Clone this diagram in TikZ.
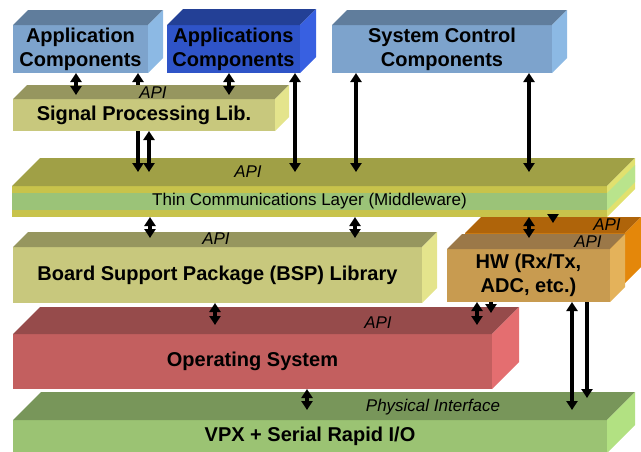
\documentclass[tikz,border=0pt]{standalone}
\usepackage{fontspec}
\setmainfont{Liberation Sans}
\usetikzlibrary{arrows.meta}

\definecolor{appfront}{RGB}{125,163,204}
\definecolor{apptop}{RGB}{96,125,156}
\definecolor{appside}{RGB}{140,185,228}
\definecolor{appsfront}{RGB}{47,84,200}
\definecolor{appstop}{RGB}{35,64,150}
\definecolor{appsside}{RGB}{56,96,225}
\definecolor{sigfront}{RGB}{200,200,125}
\definecolor{sigtop}{RGB}{150,150,95}
\definecolor{sigside}{RGB}{228,228,140}
\definecolor{mwtop}{RGB}{160,160,70}
\definecolor{mwyellow}{RGB}{200,195,75}
\definecolor{mwgreen}{RGB}{155,195,120}
\definecolor{mwsidey}{RGB}{225,225,110}
\definecolor{mwsideg}{RGB}{185,228,140}
\definecolor{hwfront}{RGB}{200,155,80}
\definecolor{hwtop}{RGB}{155,120,72}
\definecolor{hwside}{RGB}{228,178,90}
\definecolor{orgfront}{RGB}{205,125,20}
\definecolor{orgtop}{RGB}{175,100,10}
\definecolor{orgside}{RGB}{228,135,10}
\definecolor{osfront}{RGB}{195,95,95}
\definecolor{ostop}{RGB}{150,75,75}
\definecolor{osside}{RGB}{228,110,112}
\definecolor{vpxfront}{RGB}{155,195,115}
\definecolor{vpxtop}{RGB}{120,150,90}
\definecolor{vpxside}{RGB}{178,225,130}

% top and side face of a box: node, depth, top colour, side colour
\newcommand{\boxfaces}[4]{%
  \fill[#3] (#1.north west) -- ++(#2,-#2) -- ([shift={(#2,-#2)}]#1.north east) -- (#1.north east) -- cycle;
  \fill[#4] (#1.north east) -- ([shift={(#2,-#2)}]#1.north east) -- ([shift={(#2,-#2)}]#1.south east) -- (#1.south east) -- cycle;
}

\begin{document}
\begin{tikzpicture}[x=1pt, y=-1pt,
        layer/.style={rectangle, anchor=north west, inner sep=0pt, outer sep=0pt, align=center, font=\fontsize{20}{24}\selectfont\bfseries},
        api/.style={inner sep=0pt, font=\fontsize{17}{19}\selectfont\itshape},
        dbl/.style={<->, >={Triangle[width=11pt,length=9pt]}, line width=4pt},
        sgl/.style={->, >={Triangle[width=11pt,length=9pt]}, line width=4pt}
    ]
        \useasboundingbox (0,0) rectangle (641,451);

        % top row
        \node[layer, fill=appfront, minimum width=135pt, minimum height=48pt] (appcomp) at (13,25) {Application\\Components};
        \boxfaces{appcomp}{15}{apptop}{appside}
        \node[layer, fill=appsfront, minimum width=133pt, minimum height=48pt] (appscomp) at (167,25) {Applications\\Components};
        \boxfaces{appscomp}{16}{appstop}{appsside}
        \node[layer, fill=appfront, minimum width=220pt, minimum height=48pt] (sysctrl) at (332,25) {System Control\\Components};
        \boxfaces{sysctrl}{15}{apptop}{appside}

        % middleware
        \node[layer, fill=mwyellow, minimum width=595pt, minimum height=31pt, font=\fontsize{17}{19}\selectfont,
            path picture={\fill[mwgreen] ([yshift=-7pt]path picture bounding box.north west) rectangle ([yshift=7pt]path picture bounding box.south east);}]
            (midware) at (12,186) {Thin Communications Layer (Middleware)};
        \boxfaces{midware}{28}{mwtop}{mwsidey}
        \fill[mwsideg] ([yshift=-7pt]midware.north east) -- ++(28,-28) -- ([shift={(28,-28)},yshift=7pt]midware.south east) -- ([yshift=7pt]midware.south east) -- cycle;

        % passes behind the signal processing lib.
        \draw[dbl] ([xshift=125pt]appcomp.south west) -- ([xshift=126pt,yshift=14pt]midware.north west);

        \node[layer, fill=sigfront, minimum width=262pt, minimum height=32pt] (sigproc) at (13,99) {Signal Processing Lib.};
        \boxfaces{sigproc}{14}{sigtop}{sigside}

        % lower layers
        \node[layer, fill=sigfront, minimum width=409pt, minimum height=56pt] (bsp) at (13,247) {Board Support Package (BSP) Library};
        \boxfaces{bsp}{15}{sigtop}{sigside}
        \node[layer, fill=orgfront, minimum width=160pt, minimum height=50pt] (hwback) at (465,233) {};
        \boxfaces{hwback}{16}{orgtop}{orgside}
        \node[layer, fill=hwfront, minimum width=163pt, minimum height=53pt] (hw) at (447,249) {HW (Rx/Tx,\\ADC, etc.)};
        \boxfaces{hw}{15}{hwtop}{hwside}
        \node[layer, fill=osfront, minimum width=479pt, minimum height=55pt] (os) at (13,334) {Operating System};
        \boxfaces{os}{27}{ostop}{osside}
        \node[layer, fill=vpxfront, minimum width=594pt, minimum height=33pt] (vpx) at (13,420) {VPX + Serial Rapid I/O};
        \boxfaces{vpx}{28}{vpxtop}{vpxside}

        % labels on the top faces
        \node[api] (apisig) at (153,93) {API};
        \node[api] (apimw) at (248,172) {API};
        \node[api] (apibsp) at (216,239) {API};
        \node[api] (apiorg) at (607,225) {API};
        \node[api] (apihw) at (588,242) {API};
        \node[api] (apios) at (378,323) {API};
        \node[api] (phys) at (433,407) {Physical Interface};

        % connections
        \draw[dbl] ([xshift=63pt]appcomp.south west) -- ([xshift=63pt,yshift=4pt]sigproc.north west);
        \draw[dbl] ([xshift=62pt]appscomp.south west) -- ([xshift=216pt,yshift=4pt]sigproc.north west);
        \draw[dbl] ([xshift=136pt]sigproc.south west) -- ([xshift=137pt,yshift=14pt]midware.north west);
        \draw[dbl] ([xshift=128pt]appscomp.south west) -- ([xshift=283pt,yshift=14pt]midware.north west);
        \draw[dbl] ([xshift=24pt]sysctrl.south west) -- ([xshift=344pt,yshift=14pt]midware.north west);
        \draw[dbl] ([xshift=197pt]sysctrl.south west) -- ([xshift=517pt,yshift=14pt]midware.north west);
        \draw[dbl] ([xshift=138pt]midware.south west) -- ([xshift=137pt,yshift=9pt]bsp.north west);
        \draw[dbl] ([xshift=343pt]midware.south west) -- ([xshift=342pt,yshift=9pt]bsp.north west);
        \draw[dbl] ([xshift=517pt]midware.south west) -- ([xshift=82pt,yshift=11pt]hw.north west);
        \draw[sgl] ([xshift=541pt]midware.south west) -- ([xshift=88pt,yshift=10pt]hwback.north west);
        \draw[dbl] ([xshift=202pt]bsp.south west) -- ([xshift=202pt,yshift=9pt]os.north west);
        \draw[dbl] ([xshift=30pt]hw.south west) -- ([xshift=464pt,yshift=9pt]os.north west);
        \draw[sgl] ([xshift=44pt]hw.south west) -- ([xshift=478pt,yshift=21pt]os.north west);
        \draw[dbl] ([xshift=294pt]os.south west) -- ([xshift=294pt,yshift=10pt]vpx.north west);
        \draw[dbl] ([xshift=125pt]hw.south west) -- ([xshift=559pt,yshift=10pt]vpx.north west);
        \draw[sgl] ([xshift=140pt]hw.south west) -- ([xshift=574pt,yshift=22pt]vpx.north west);
    \end{tikzpicture}
\end{document}
